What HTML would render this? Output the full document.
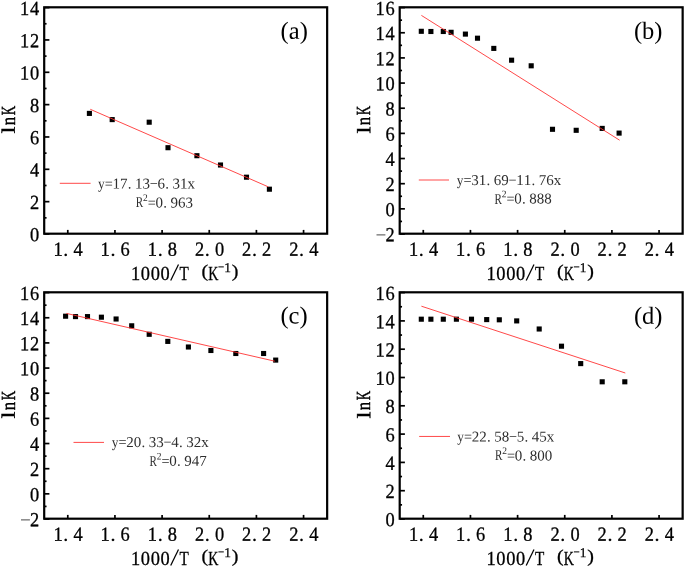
<!DOCTYPE html>
<html><head><meta charset="utf-8"><title>lnK vs 1000/T</title>
<style>html,body{margin:0;padding:0;background:#fff;}svg{display:block;will-change:transform;transform:translateZ(0);filter:blur(0.38px);}text{font-family:"Liberation Serif",serif;text-anchor:middle;}</style></head><body>
<svg width="685" height="568" viewBox="0 0 685 568">
<rect width="685" height="568" fill="#fff"/>
<rect x="44.20" y="7.30" width="282.95" height="226.40" fill="none" stroke="#000" stroke-width="2.2"/>
<line x1="67.78" y1="233.70" x2="67.78" y2="229.90" stroke="#000" stroke-width="1.7"/>
<text transform="translate(58.03 255.70) rotate(0.03) scale(0.920 1.000)" font-size="20.0" fill="#000" stroke="#000" stroke-width="0.3">1</text>
<text transform="translate(65.83 255.70) rotate(0.03) scale(1.000 1.000)" font-size="20.0" fill="#000" stroke="#000" stroke-width="0.3">.</text>
<text transform="translate(78.03 255.70) rotate(0.03) scale(0.920 1.000)" font-size="20.0" fill="#000" stroke="#000" stroke-width="0.3">4</text>
<line x1="114.94" y1="233.70" x2="114.94" y2="229.90" stroke="#000" stroke-width="1.7"/>
<text transform="translate(105.19 255.70) rotate(0.03) scale(0.920 1.000)" font-size="20.0" fill="#000" stroke="#000" stroke-width="0.3">1</text>
<text transform="translate(112.99 255.70) rotate(0.03) scale(1.000 1.000)" font-size="20.0" fill="#000" stroke="#000" stroke-width="0.3">.</text>
<text transform="translate(125.19 255.70) rotate(0.03) scale(0.920 1.000)" font-size="20.0" fill="#000" stroke="#000" stroke-width="0.3">6</text>
<line x1="162.10" y1="233.70" x2="162.10" y2="229.90" stroke="#000" stroke-width="1.7"/>
<text transform="translate(152.35 255.70) rotate(0.03) scale(0.920 1.000)" font-size="20.0" fill="#000" stroke="#000" stroke-width="0.3">1</text>
<text transform="translate(160.15 255.70) rotate(0.03) scale(1.000 1.000)" font-size="20.0" fill="#000" stroke="#000" stroke-width="0.3">.</text>
<text transform="translate(172.35 255.70) rotate(0.03) scale(0.920 1.000)" font-size="20.0" fill="#000" stroke="#000" stroke-width="0.3">8</text>
<line x1="209.25" y1="233.70" x2="209.25" y2="229.90" stroke="#000" stroke-width="1.7"/>
<text transform="translate(199.50 255.70) rotate(0.03) scale(0.920 1.000)" font-size="20.0" fill="#000" stroke="#000" stroke-width="0.3">2</text>
<text transform="translate(207.30 255.70) rotate(0.03) scale(1.000 1.000)" font-size="20.0" fill="#000" stroke="#000" stroke-width="0.3">.</text>
<text transform="translate(219.50 255.70) rotate(0.03) scale(0.920 1.000)" font-size="20.0" fill="#000" stroke="#000" stroke-width="0.3">0</text>
<line x1="256.41" y1="233.70" x2="256.41" y2="229.90" stroke="#000" stroke-width="1.7"/>
<text transform="translate(246.66 255.70) rotate(0.03) scale(0.920 1.000)" font-size="20.0" fill="#000" stroke="#000" stroke-width="0.3">2</text>
<text transform="translate(254.46 255.70) rotate(0.03) scale(1.000 1.000)" font-size="20.0" fill="#000" stroke="#000" stroke-width="0.3">.</text>
<text transform="translate(266.66 255.70) rotate(0.03) scale(0.920 1.000)" font-size="20.0" fill="#000" stroke="#000" stroke-width="0.3">2</text>
<line x1="303.57" y1="233.70" x2="303.57" y2="229.90" stroke="#000" stroke-width="1.7"/>
<text transform="translate(293.82 255.70) rotate(0.03) scale(0.920 1.000)" font-size="20.0" fill="#000" stroke="#000" stroke-width="0.3">2</text>
<text transform="translate(301.62 255.70) rotate(0.03) scale(1.000 1.000)" font-size="20.0" fill="#000" stroke="#000" stroke-width="0.3">.</text>
<text transform="translate(313.82 255.70) rotate(0.03) scale(0.920 1.000)" font-size="20.0" fill="#000" stroke="#000" stroke-width="0.3">4</text>
<line x1="44.20" y1="234.00" x2="49.40" y2="234.00" stroke="#000" stroke-width="1.7"/>
<text transform="translate(34.70 241.30) rotate(0.03) scale(0.920 1.000)" font-size="20.0" fill="#000" stroke="#000" stroke-width="0.3">0</text>
<line x1="44.20" y1="217.83" x2="46.55" y2="217.83" stroke="#000" stroke-width="1.7"/>
<line x1="44.20" y1="201.66" x2="49.40" y2="201.66" stroke="#000" stroke-width="1.7"/>
<text transform="translate(34.70 208.96) rotate(0.03) scale(0.920 1.000)" font-size="20.0" fill="#000" stroke="#000" stroke-width="0.3">2</text>
<line x1="44.20" y1="185.49" x2="46.55" y2="185.49" stroke="#000" stroke-width="1.7"/>
<line x1="44.20" y1="169.31" x2="49.40" y2="169.31" stroke="#000" stroke-width="1.7"/>
<text transform="translate(34.70 176.61) rotate(0.03) scale(0.920 1.000)" font-size="20.0" fill="#000" stroke="#000" stroke-width="0.3">4</text>
<line x1="44.20" y1="153.14" x2="46.55" y2="153.14" stroke="#000" stroke-width="1.7"/>
<line x1="44.20" y1="136.97" x2="49.40" y2="136.97" stroke="#000" stroke-width="1.7"/>
<text transform="translate(34.70 144.27) rotate(0.03) scale(0.920 1.000)" font-size="20.0" fill="#000" stroke="#000" stroke-width="0.3">6</text>
<line x1="44.20" y1="120.80" x2="46.55" y2="120.80" stroke="#000" stroke-width="1.7"/>
<line x1="44.20" y1="104.63" x2="49.40" y2="104.63" stroke="#000" stroke-width="1.7"/>
<text transform="translate(34.70 111.93) rotate(0.03) scale(0.920 1.000)" font-size="20.0" fill="#000" stroke="#000" stroke-width="0.3">8</text>
<line x1="44.20" y1="88.46" x2="46.55" y2="88.46" stroke="#000" stroke-width="1.7"/>
<line x1="44.20" y1="72.29" x2="49.40" y2="72.29" stroke="#000" stroke-width="1.7"/>
<text transform="translate(24.70 79.59) rotate(0.03) scale(0.920 1.000)" font-size="20.0" fill="#000" stroke="#000" stroke-width="0.3">1</text>
<text transform="translate(34.70 79.59) rotate(0.03) scale(0.920 1.000)" font-size="20.0" fill="#000" stroke="#000" stroke-width="0.3">0</text>
<line x1="44.20" y1="56.11" x2="46.55" y2="56.11" stroke="#000" stroke-width="1.7"/>
<line x1="44.20" y1="39.94" x2="49.40" y2="39.94" stroke="#000" stroke-width="1.7"/>
<text transform="translate(24.70 47.24) rotate(0.03) scale(0.920 1.000)" font-size="20.0" fill="#000" stroke="#000" stroke-width="0.3">1</text>
<text transform="translate(34.70 47.24) rotate(0.03) scale(0.920 1.000)" font-size="20.0" fill="#000" stroke="#000" stroke-width="0.3">2</text>
<line x1="44.20" y1="23.77" x2="46.55" y2="23.77" stroke="#000" stroke-width="1.7"/>
<line x1="44.20" y1="7.60" x2="49.40" y2="7.60" stroke="#000" stroke-width="1.7"/>
<text transform="translate(24.70 14.90) rotate(0.03) scale(0.920 1.000)" font-size="20.0" fill="#000" stroke="#000" stroke-width="0.3">1</text>
<text transform="translate(34.70 14.90) rotate(0.03) scale(0.920 1.000)" font-size="20.0" fill="#000" stroke="#000" stroke-width="0.3">4</text>
<text transform="translate(135.50 279.90) rotate(0.03) scale(0.920 1.000)" font-size="20.0" fill="#000" stroke="#000" stroke-width="0.3">1</text>
<text transform="translate(145.36 279.90) rotate(0.03) scale(0.920 1.000)" font-size="20.0" fill="#000" stroke="#000" stroke-width="0.3">0</text>
<text transform="translate(155.22 279.90) rotate(0.03) scale(0.920 1.000)" font-size="20.0" fill="#000" stroke="#000" stroke-width="0.3">0</text>
<text transform="translate(165.08 279.90) rotate(0.03) scale(0.920 1.000)" font-size="20.0" fill="#000" stroke="#000" stroke-width="0.3">0</text>
<line x1="170.70" y1="280.60" x2="178.50" y2="264.50" stroke="#000" stroke-width="1.25"/>
<text transform="translate(184.20 279.90) rotate(0.03) scale(0.760 1.000)" font-size="20.0" fill="#000" stroke="#000" stroke-width="0.3">T</text>
<text transform="translate(204.80 276.90) rotate(0.03) scale(1.000 0.900)" font-size="20.0" fill="#000" stroke="#000" stroke-width="0.3">(</text>
<text transform="translate(213.20 279.90) rotate(0.03) scale(0.700 1.000)" font-size="20.0" fill="#000" stroke="#000" stroke-width="0.3">K</text>
<line x1="218.40" y1="266.90" x2="223.80" y2="266.90" stroke="#000" stroke-width="1"/>
<text transform="translate(227.70 272.00) rotate(0.03) scale(1.000 1.000)" font-size="13.4" fill="#000" stroke="#000" stroke-width="0.25">1</text>
<text transform="translate(235.20 276.90) rotate(0.03) scale(1.000 0.900)" font-size="20.0" fill="#000" stroke="#000" stroke-width="0.3">)</text>
<g transform="translate(14.70 120.60) rotate(-90)">
<text transform="translate(-9.40 0.00) rotate(0.03) scale(1.250 0.950)" font-size="20.0" fill="#000" stroke="#000" stroke-width="0.45">l</text>
<text transform="translate(-0.50 0.00) rotate(0.03) scale(0.836 1.000)" font-size="20.0" fill="#000" stroke="#000" stroke-width="0.45">n</text>
<text transform="translate(10.00 0.00) rotate(0.03) scale(0.651 1.000)" font-size="20.0" fill="#000" stroke="#000" stroke-width="0.45">K</text>
</g>
<rect x="86.85" y="110.85" width="5.1" height="5.1" fill="#000"/>
<rect x="109.65" y="117.05" width="5.1" height="5.1" fill="#000"/>
<rect x="146.65" y="119.65" width="5.1" height="5.1" fill="#000"/>
<rect x="165.45" y="145.15" width="5.1" height="5.1" fill="#000"/>
<rect x="194.35" y="153.15" width="5.1" height="5.1" fill="#000"/>
<rect x="217.95" y="162.45" width="5.1" height="5.1" fill="#000"/>
<rect x="243.95" y="174.65" width="5.1" height="5.1" fill="#000"/>
<rect x="266.85" y="186.65" width="5.1" height="5.1" fill="#000"/>
<line x1="90.30" y1="109.30" x2="268.20" y2="186.80" stroke="#ff3030" stroke-width="0.88"/>
<line x1="59.80" y1="183.30" x2="90.60" y2="183.30" stroke="#ff3030" stroke-width="0.88"/>
<text transform="translate(101.30 188.60) rotate(0.03) scale(0.900 1.000)" font-size="15.0" fill="#2e2e2e">y</text>
<text transform="translate(108.80 188.60) rotate(0.03) scale(0.950 1.000)" font-size="15.0" fill="#2e2e2e">=</text>
<text transform="translate(116.30 188.60) rotate(0.03) scale(1.000 1.000)" font-size="15.0" fill="#2e2e2e">1</text>
<text transform="translate(123.80 188.60) rotate(0.03) scale(1.000 1.000)" font-size="15.0" fill="#2e2e2e">7</text>
<text transform="translate(129.65 188.60) rotate(0.03) scale(1.000 1.000)" font-size="15.0" fill="#2e2e2e">.</text>
<text transform="translate(138.80 188.60) rotate(0.03) scale(1.000 1.000)" font-size="15.0" fill="#2e2e2e">1</text>
<text transform="translate(146.30 188.60) rotate(0.03) scale(1.000 1.000)" font-size="15.0" fill="#2e2e2e">3</text>
<text transform="translate(153.80 188.60) rotate(0.03) scale(0.950 1.000)" font-size="15.0" fill="#2e2e2e">−</text>
<text transform="translate(161.30 188.60) rotate(0.03) scale(1.000 1.000)" font-size="15.0" fill="#2e2e2e">6</text>
<text transform="translate(167.15 188.60) rotate(0.03) scale(1.000 1.000)" font-size="15.0" fill="#2e2e2e">.</text>
<text transform="translate(176.30 188.60) rotate(0.03) scale(1.000 1.000)" font-size="15.0" fill="#2e2e2e">3</text>
<text transform="translate(183.80 188.60) rotate(0.03) scale(1.000 1.000)" font-size="15.0" fill="#2e2e2e">1</text>
<text transform="translate(191.30 188.60) rotate(0.03) scale(1.000 1.000)" font-size="15.0" fill="#2e2e2e">x</text>
<text transform="translate(139.35 207.40) rotate(0.03) scale(0.740 1.000)" font-size="15.0" fill="#2e2e2e">R</text>
<text transform="translate(145.35 201.10) rotate(0.03) scale(0.950 1.000)" font-size="10" fill="#2e2e2e">2</text>
<text transform="translate(151.70 207.40) rotate(0.03) scale(0.950 1.000)" font-size="15.0" fill="#2e2e2e">=</text>
<text transform="translate(159.20 207.40) rotate(0.03) scale(1.000 1.000)" font-size="15.0" fill="#2e2e2e">0</text>
<text transform="translate(165.05 207.40) rotate(0.03) scale(1.000 1.000)" font-size="15.0" fill="#2e2e2e">.</text>
<text transform="translate(174.20 207.40) rotate(0.03) scale(1.000 1.000)" font-size="15.0" fill="#2e2e2e">9</text>
<text transform="translate(181.70 207.40) rotate(0.03) scale(1.000 1.000)" font-size="15.0" fill="#2e2e2e">6</text>
<text transform="translate(189.20 207.40) rotate(0.03) scale(1.000 1.000)" font-size="15.0" fill="#2e2e2e">3</text>
<text transform="translate(294.20 38.70) rotate(0.03)" font-size="24.5" fill="#000">(a)</text>
<rect x="399.70" y="7.30" width="282.95" height="226.40" fill="none" stroke="#000" stroke-width="2.2"/>
<line x1="423.28" y1="233.70" x2="423.28" y2="229.90" stroke="#000" stroke-width="1.7"/>
<text transform="translate(413.53 255.70) rotate(0.03) scale(0.920 1.000)" font-size="20.0" fill="#000" stroke="#000" stroke-width="0.3">1</text>
<text transform="translate(421.33 255.70) rotate(0.03) scale(1.000 1.000)" font-size="20.0" fill="#000" stroke="#000" stroke-width="0.3">.</text>
<text transform="translate(433.53 255.70) rotate(0.03) scale(0.920 1.000)" font-size="20.0" fill="#000" stroke="#000" stroke-width="0.3">4</text>
<line x1="470.44" y1="233.70" x2="470.44" y2="229.90" stroke="#000" stroke-width="1.7"/>
<text transform="translate(460.69 255.70) rotate(0.03) scale(0.920 1.000)" font-size="20.0" fill="#000" stroke="#000" stroke-width="0.3">1</text>
<text transform="translate(468.49 255.70) rotate(0.03) scale(1.000 1.000)" font-size="20.0" fill="#000" stroke="#000" stroke-width="0.3">.</text>
<text transform="translate(480.69 255.70) rotate(0.03) scale(0.920 1.000)" font-size="20.0" fill="#000" stroke="#000" stroke-width="0.3">6</text>
<line x1="517.60" y1="233.70" x2="517.60" y2="229.90" stroke="#000" stroke-width="1.7"/>
<text transform="translate(507.85 255.70) rotate(0.03) scale(0.920 1.000)" font-size="20.0" fill="#000" stroke="#000" stroke-width="0.3">1</text>
<text transform="translate(515.65 255.70) rotate(0.03) scale(1.000 1.000)" font-size="20.0" fill="#000" stroke="#000" stroke-width="0.3">.</text>
<text transform="translate(527.85 255.70) rotate(0.03) scale(0.920 1.000)" font-size="20.0" fill="#000" stroke="#000" stroke-width="0.3">8</text>
<line x1="564.75" y1="233.70" x2="564.75" y2="229.90" stroke="#000" stroke-width="1.7"/>
<text transform="translate(555.00 255.70) rotate(0.03) scale(0.920 1.000)" font-size="20.0" fill="#000" stroke="#000" stroke-width="0.3">2</text>
<text transform="translate(562.80 255.70) rotate(0.03) scale(1.000 1.000)" font-size="20.0" fill="#000" stroke="#000" stroke-width="0.3">.</text>
<text transform="translate(575.00 255.70) rotate(0.03) scale(0.920 1.000)" font-size="20.0" fill="#000" stroke="#000" stroke-width="0.3">0</text>
<line x1="611.91" y1="233.70" x2="611.91" y2="229.90" stroke="#000" stroke-width="1.7"/>
<text transform="translate(602.16 255.70) rotate(0.03) scale(0.920 1.000)" font-size="20.0" fill="#000" stroke="#000" stroke-width="0.3">2</text>
<text transform="translate(609.96 255.70) rotate(0.03) scale(1.000 1.000)" font-size="20.0" fill="#000" stroke="#000" stroke-width="0.3">.</text>
<text transform="translate(622.16 255.70) rotate(0.03) scale(0.920 1.000)" font-size="20.0" fill="#000" stroke="#000" stroke-width="0.3">2</text>
<line x1="659.07" y1="233.70" x2="659.07" y2="229.90" stroke="#000" stroke-width="1.7"/>
<text transform="translate(649.32 255.70) rotate(0.03) scale(0.920 1.000)" font-size="20.0" fill="#000" stroke="#000" stroke-width="0.3">2</text>
<text transform="translate(657.12 255.70) rotate(0.03) scale(1.000 1.000)" font-size="20.0" fill="#000" stroke="#000" stroke-width="0.3">.</text>
<text transform="translate(669.32 255.70) rotate(0.03) scale(0.920 1.000)" font-size="20.0" fill="#000" stroke="#000" stroke-width="0.3">4</text>
<line x1="399.70" y1="234.00" x2="404.90" y2="234.00" stroke="#000" stroke-width="1.7"/>
<line x1="376.50" y1="234.90" x2="385.40" y2="234.90" stroke="#333" stroke-width="0.9"/>
<text transform="translate(390.20 241.30) rotate(0.03) scale(0.920 1.000)" font-size="20.0" fill="#000" stroke="#000" stroke-width="0.3">2</text>
<line x1="399.70" y1="221.42" x2="402.05" y2="221.42" stroke="#000" stroke-width="1.7"/>
<line x1="399.70" y1="208.84" x2="404.90" y2="208.84" stroke="#000" stroke-width="1.7"/>
<text transform="translate(390.20 216.14) rotate(0.03) scale(0.920 1.000)" font-size="20.0" fill="#000" stroke="#000" stroke-width="0.3">0</text>
<line x1="399.70" y1="196.27" x2="402.05" y2="196.27" stroke="#000" stroke-width="1.7"/>
<line x1="399.70" y1="183.69" x2="404.90" y2="183.69" stroke="#000" stroke-width="1.7"/>
<text transform="translate(390.20 190.99) rotate(0.03) scale(0.920 1.000)" font-size="20.0" fill="#000" stroke="#000" stroke-width="0.3">2</text>
<line x1="399.70" y1="171.11" x2="402.05" y2="171.11" stroke="#000" stroke-width="1.7"/>
<line x1="399.70" y1="158.53" x2="404.90" y2="158.53" stroke="#000" stroke-width="1.7"/>
<text transform="translate(390.20 165.83) rotate(0.03) scale(0.920 1.000)" font-size="20.0" fill="#000" stroke="#000" stroke-width="0.3">4</text>
<line x1="399.70" y1="145.96" x2="402.05" y2="145.96" stroke="#000" stroke-width="1.7"/>
<line x1="399.70" y1="133.38" x2="404.90" y2="133.38" stroke="#000" stroke-width="1.7"/>
<text transform="translate(390.20 140.68) rotate(0.03) scale(0.920 1.000)" font-size="20.0" fill="#000" stroke="#000" stroke-width="0.3">6</text>
<line x1="399.70" y1="120.80" x2="402.05" y2="120.80" stroke="#000" stroke-width="1.7"/>
<line x1="399.70" y1="108.22" x2="404.90" y2="108.22" stroke="#000" stroke-width="1.7"/>
<text transform="translate(390.20 115.52) rotate(0.03) scale(0.920 1.000)" font-size="20.0" fill="#000" stroke="#000" stroke-width="0.3">8</text>
<line x1="399.70" y1="95.64" x2="402.05" y2="95.64" stroke="#000" stroke-width="1.7"/>
<line x1="399.70" y1="83.07" x2="404.90" y2="83.07" stroke="#000" stroke-width="1.7"/>
<text transform="translate(380.20 90.37) rotate(0.03) scale(0.920 1.000)" font-size="20.0" fill="#000" stroke="#000" stroke-width="0.3">1</text>
<text transform="translate(390.20 90.37) rotate(0.03) scale(0.920 1.000)" font-size="20.0" fill="#000" stroke="#000" stroke-width="0.3">0</text>
<line x1="399.70" y1="70.49" x2="402.05" y2="70.49" stroke="#000" stroke-width="1.7"/>
<line x1="399.70" y1="57.91" x2="404.90" y2="57.91" stroke="#000" stroke-width="1.7"/>
<text transform="translate(380.20 65.21) rotate(0.03) scale(0.920 1.000)" font-size="20.0" fill="#000" stroke="#000" stroke-width="0.3">1</text>
<text transform="translate(390.20 65.21) rotate(0.03) scale(0.920 1.000)" font-size="20.0" fill="#000" stroke="#000" stroke-width="0.3">2</text>
<line x1="399.70" y1="45.33" x2="402.05" y2="45.33" stroke="#000" stroke-width="1.7"/>
<line x1="399.70" y1="32.76" x2="404.90" y2="32.76" stroke="#000" stroke-width="1.7"/>
<text transform="translate(380.20 40.06) rotate(0.03) scale(0.920 1.000)" font-size="20.0" fill="#000" stroke="#000" stroke-width="0.3">1</text>
<text transform="translate(390.20 40.06) rotate(0.03) scale(0.920 1.000)" font-size="20.0" fill="#000" stroke="#000" stroke-width="0.3">4</text>
<line x1="399.70" y1="20.18" x2="402.05" y2="20.18" stroke="#000" stroke-width="1.7"/>
<line x1="399.70" y1="7.60" x2="404.90" y2="7.60" stroke="#000" stroke-width="1.7"/>
<text transform="translate(380.20 14.90) rotate(0.03) scale(0.920 1.000)" font-size="20.0" fill="#000" stroke="#000" stroke-width="0.3">1</text>
<text transform="translate(390.20 14.90) rotate(0.03) scale(0.920 1.000)" font-size="20.0" fill="#000" stroke="#000" stroke-width="0.3">6</text>
<text transform="translate(491.00 279.90) rotate(0.03) scale(0.920 1.000)" font-size="20.0" fill="#000" stroke="#000" stroke-width="0.3">1</text>
<text transform="translate(500.86 279.90) rotate(0.03) scale(0.920 1.000)" font-size="20.0" fill="#000" stroke="#000" stroke-width="0.3">0</text>
<text transform="translate(510.72 279.90) rotate(0.03) scale(0.920 1.000)" font-size="20.0" fill="#000" stroke="#000" stroke-width="0.3">0</text>
<text transform="translate(520.58 279.90) rotate(0.03) scale(0.920 1.000)" font-size="20.0" fill="#000" stroke="#000" stroke-width="0.3">0</text>
<line x1="526.20" y1="280.60" x2="534.00" y2="264.50" stroke="#000" stroke-width="1.25"/>
<text transform="translate(539.70 279.90) rotate(0.03) scale(0.760 1.000)" font-size="20.0" fill="#000" stroke="#000" stroke-width="0.3">T</text>
<text transform="translate(560.30 276.90) rotate(0.03) scale(1.000 0.900)" font-size="20.0" fill="#000" stroke="#000" stroke-width="0.3">(</text>
<text transform="translate(568.70 279.90) rotate(0.03) scale(0.700 1.000)" font-size="20.0" fill="#000" stroke="#000" stroke-width="0.3">K</text>
<line x1="573.90" y1="266.90" x2="579.30" y2="266.90" stroke="#000" stroke-width="1"/>
<text transform="translate(583.20 272.00) rotate(0.03) scale(1.000 1.000)" font-size="13.4" fill="#000" stroke="#000" stroke-width="0.25">1</text>
<text transform="translate(590.70 276.90) rotate(0.03) scale(1.000 0.900)" font-size="20.0" fill="#000" stroke="#000" stroke-width="0.3">)</text>
<g transform="translate(370.20 120.60) rotate(-90)">
<text transform="translate(-9.40 0.00) rotate(0.03) scale(1.250 0.950)" font-size="20.0" fill="#000" stroke="#000" stroke-width="0.45">l</text>
<text transform="translate(-0.50 0.00) rotate(0.03) scale(0.836 1.000)" font-size="20.0" fill="#000" stroke="#000" stroke-width="0.45">n</text>
<text transform="translate(10.00 0.00) rotate(0.03) scale(0.651 1.000)" font-size="20.0" fill="#000" stroke="#000" stroke-width="0.45">K</text>
</g>
<rect x="418.75" y="28.75" width="5.1" height="5.1" fill="#000"/>
<rect x="428.35" y="28.95" width="5.1" height="5.1" fill="#000"/>
<rect x="440.75" y="28.95" width="5.1" height="5.1" fill="#000"/>
<rect x="448.55" y="29.75" width="5.1" height="5.1" fill="#000"/>
<rect x="462.85" y="31.55" width="5.1" height="5.1" fill="#000"/>
<rect x="474.95" y="35.65" width="5.1" height="5.1" fill="#000"/>
<rect x="491.25" y="45.85" width="5.1" height="5.1" fill="#000"/>
<rect x="509.05" y="57.65" width="5.1" height="5.1" fill="#000"/>
<rect x="528.65" y="63.25" width="5.1" height="5.1" fill="#000"/>
<rect x="549.95" y="126.75" width="5.1" height="5.1" fill="#000"/>
<rect x="573.65" y="127.75" width="5.1" height="5.1" fill="#000"/>
<rect x="599.65" y="125.85" width="5.1" height="5.1" fill="#000"/>
<rect x="616.55" y="130.55" width="5.1" height="5.1" fill="#000"/>
<line x1="421.40" y1="15.40" x2="619.60" y2="140.20" stroke="#ff3030" stroke-width="0.88"/>
<line x1="418.80" y1="180.00" x2="449.00" y2="180.00" stroke="#ff3030" stroke-width="0.88"/>
<text transform="translate(460.05 184.90) rotate(0.03) scale(0.900 1.000)" font-size="15.0" fill="#2e2e2e">y</text>
<text transform="translate(467.55 184.90) rotate(0.03) scale(0.950 1.000)" font-size="15.0" fill="#2e2e2e">=</text>
<text transform="translate(475.05 184.90) rotate(0.03) scale(1.000 1.000)" font-size="15.0" fill="#2e2e2e">3</text>
<text transform="translate(482.55 184.90) rotate(0.03) scale(1.000 1.000)" font-size="15.0" fill="#2e2e2e">1</text>
<text transform="translate(488.40 184.90) rotate(0.03) scale(1.000 1.000)" font-size="15.0" fill="#2e2e2e">.</text>
<text transform="translate(497.55 184.90) rotate(0.03) scale(1.000 1.000)" font-size="15.0" fill="#2e2e2e">6</text>
<text transform="translate(505.05 184.90) rotate(0.03) scale(1.000 1.000)" font-size="15.0" fill="#2e2e2e">9</text>
<text transform="translate(512.55 184.90) rotate(0.03) scale(0.950 1.000)" font-size="15.0" fill="#2e2e2e">−</text>
<text transform="translate(520.05 184.90) rotate(0.03) scale(1.000 1.000)" font-size="15.0" fill="#2e2e2e">1</text>
<text transform="translate(527.55 184.90) rotate(0.03) scale(1.000 1.000)" font-size="15.0" fill="#2e2e2e">1</text>
<text transform="translate(533.40 184.90) rotate(0.03) scale(1.000 1.000)" font-size="15.0" fill="#2e2e2e">.</text>
<text transform="translate(542.55 184.90) rotate(0.03) scale(1.000 1.000)" font-size="15.0" fill="#2e2e2e">7</text>
<text transform="translate(550.05 184.90) rotate(0.03) scale(1.000 1.000)" font-size="15.0" fill="#2e2e2e">6</text>
<text transform="translate(557.55 184.90) rotate(0.03) scale(1.000 1.000)" font-size="15.0" fill="#2e2e2e">x</text>
<text transform="translate(498.10 203.60) rotate(0.03) scale(0.740 1.000)" font-size="15.0" fill="#2e2e2e">R</text>
<text transform="translate(504.10 197.30) rotate(0.03) scale(0.950 1.000)" font-size="10" fill="#2e2e2e">2</text>
<text transform="translate(510.45 203.60) rotate(0.03) scale(0.950 1.000)" font-size="15.0" fill="#2e2e2e">=</text>
<text transform="translate(517.95 203.60) rotate(0.03) scale(1.000 1.000)" font-size="15.0" fill="#2e2e2e">0</text>
<text transform="translate(523.80 203.60) rotate(0.03) scale(1.000 1.000)" font-size="15.0" fill="#2e2e2e">.</text>
<text transform="translate(532.95 203.60) rotate(0.03) scale(1.000 1.000)" font-size="15.0" fill="#2e2e2e">8</text>
<text transform="translate(540.45 203.60) rotate(0.03) scale(1.000 1.000)" font-size="15.0" fill="#2e2e2e">8</text>
<text transform="translate(547.95 203.60) rotate(0.03) scale(1.000 1.000)" font-size="15.0" fill="#2e2e2e">8</text>
<text transform="translate(648.20 38.70) rotate(0.03)" font-size="24.5" fill="#000">(b)</text>
<rect x="44.20" y="292.30" width="282.95" height="226.40" fill="none" stroke="#000" stroke-width="2.2"/>
<line x1="67.78" y1="518.70" x2="67.78" y2="514.90" stroke="#000" stroke-width="1.7"/>
<text transform="translate(58.03 540.70) rotate(0.03) scale(0.920 1.000)" font-size="20.0" fill="#000" stroke="#000" stroke-width="0.3">1</text>
<text transform="translate(65.83 540.70) rotate(0.03) scale(1.000 1.000)" font-size="20.0" fill="#000" stroke="#000" stroke-width="0.3">.</text>
<text transform="translate(78.03 540.70) rotate(0.03) scale(0.920 1.000)" font-size="20.0" fill="#000" stroke="#000" stroke-width="0.3">4</text>
<line x1="114.94" y1="518.70" x2="114.94" y2="514.90" stroke="#000" stroke-width="1.7"/>
<text transform="translate(105.19 540.70) rotate(0.03) scale(0.920 1.000)" font-size="20.0" fill="#000" stroke="#000" stroke-width="0.3">1</text>
<text transform="translate(112.99 540.70) rotate(0.03) scale(1.000 1.000)" font-size="20.0" fill="#000" stroke="#000" stroke-width="0.3">.</text>
<text transform="translate(125.19 540.70) rotate(0.03) scale(0.920 1.000)" font-size="20.0" fill="#000" stroke="#000" stroke-width="0.3">6</text>
<line x1="162.10" y1="518.70" x2="162.10" y2="514.90" stroke="#000" stroke-width="1.7"/>
<text transform="translate(152.35 540.70) rotate(0.03) scale(0.920 1.000)" font-size="20.0" fill="#000" stroke="#000" stroke-width="0.3">1</text>
<text transform="translate(160.15 540.70) rotate(0.03) scale(1.000 1.000)" font-size="20.0" fill="#000" stroke="#000" stroke-width="0.3">.</text>
<text transform="translate(172.35 540.70) rotate(0.03) scale(0.920 1.000)" font-size="20.0" fill="#000" stroke="#000" stroke-width="0.3">8</text>
<line x1="209.25" y1="518.70" x2="209.25" y2="514.90" stroke="#000" stroke-width="1.7"/>
<text transform="translate(199.50 540.70) rotate(0.03) scale(0.920 1.000)" font-size="20.0" fill="#000" stroke="#000" stroke-width="0.3">2</text>
<text transform="translate(207.30 540.70) rotate(0.03) scale(1.000 1.000)" font-size="20.0" fill="#000" stroke="#000" stroke-width="0.3">.</text>
<text transform="translate(219.50 540.70) rotate(0.03) scale(0.920 1.000)" font-size="20.0" fill="#000" stroke="#000" stroke-width="0.3">0</text>
<line x1="256.41" y1="518.70" x2="256.41" y2="514.90" stroke="#000" stroke-width="1.7"/>
<text transform="translate(246.66 540.70) rotate(0.03) scale(0.920 1.000)" font-size="20.0" fill="#000" stroke="#000" stroke-width="0.3">2</text>
<text transform="translate(254.46 540.70) rotate(0.03) scale(1.000 1.000)" font-size="20.0" fill="#000" stroke="#000" stroke-width="0.3">.</text>
<text transform="translate(266.66 540.70) rotate(0.03) scale(0.920 1.000)" font-size="20.0" fill="#000" stroke="#000" stroke-width="0.3">2</text>
<line x1="303.57" y1="518.70" x2="303.57" y2="514.90" stroke="#000" stroke-width="1.7"/>
<text transform="translate(293.82 540.70) rotate(0.03) scale(0.920 1.000)" font-size="20.0" fill="#000" stroke="#000" stroke-width="0.3">2</text>
<text transform="translate(301.62 540.70) rotate(0.03) scale(1.000 1.000)" font-size="20.0" fill="#000" stroke="#000" stroke-width="0.3">.</text>
<text transform="translate(313.82 540.70) rotate(0.03) scale(0.920 1.000)" font-size="20.0" fill="#000" stroke="#000" stroke-width="0.3">4</text>
<line x1="44.20" y1="519.00" x2="49.40" y2="519.00" stroke="#000" stroke-width="1.7"/>
<line x1="21.00" y1="519.90" x2="29.90" y2="519.90" stroke="#333" stroke-width="0.9"/>
<text transform="translate(34.70 526.30) rotate(0.03) scale(0.920 1.000)" font-size="20.0" fill="#000" stroke="#000" stroke-width="0.3">2</text>
<line x1="44.20" y1="506.42" x2="46.55" y2="506.42" stroke="#000" stroke-width="1.7"/>
<line x1="44.20" y1="493.84" x2="49.40" y2="493.84" stroke="#000" stroke-width="1.7"/>
<text transform="translate(34.70 501.14) rotate(0.03) scale(0.920 1.000)" font-size="20.0" fill="#000" stroke="#000" stroke-width="0.3">0</text>
<line x1="44.20" y1="481.27" x2="46.55" y2="481.27" stroke="#000" stroke-width="1.7"/>
<line x1="44.20" y1="468.69" x2="49.40" y2="468.69" stroke="#000" stroke-width="1.7"/>
<text transform="translate(34.70 475.99) rotate(0.03) scale(0.920 1.000)" font-size="20.0" fill="#000" stroke="#000" stroke-width="0.3">2</text>
<line x1="44.20" y1="456.11" x2="46.55" y2="456.11" stroke="#000" stroke-width="1.7"/>
<line x1="44.20" y1="443.53" x2="49.40" y2="443.53" stroke="#000" stroke-width="1.7"/>
<text transform="translate(34.70 450.83) rotate(0.03) scale(0.920 1.000)" font-size="20.0" fill="#000" stroke="#000" stroke-width="0.3">4</text>
<line x1="44.20" y1="430.96" x2="46.55" y2="430.96" stroke="#000" stroke-width="1.7"/>
<line x1="44.20" y1="418.38" x2="49.40" y2="418.38" stroke="#000" stroke-width="1.7"/>
<text transform="translate(34.70 425.68) rotate(0.03) scale(0.920 1.000)" font-size="20.0" fill="#000" stroke="#000" stroke-width="0.3">6</text>
<line x1="44.20" y1="405.80" x2="46.55" y2="405.80" stroke="#000" stroke-width="1.7"/>
<line x1="44.20" y1="393.22" x2="49.40" y2="393.22" stroke="#000" stroke-width="1.7"/>
<text transform="translate(34.70 400.52) rotate(0.03) scale(0.920 1.000)" font-size="20.0" fill="#000" stroke="#000" stroke-width="0.3">8</text>
<line x1="44.20" y1="380.64" x2="46.55" y2="380.64" stroke="#000" stroke-width="1.7"/>
<line x1="44.20" y1="368.07" x2="49.40" y2="368.07" stroke="#000" stroke-width="1.7"/>
<text transform="translate(24.70 375.37) rotate(0.03) scale(0.920 1.000)" font-size="20.0" fill="#000" stroke="#000" stroke-width="0.3">1</text>
<text transform="translate(34.70 375.37) rotate(0.03) scale(0.920 1.000)" font-size="20.0" fill="#000" stroke="#000" stroke-width="0.3">0</text>
<line x1="44.20" y1="355.49" x2="46.55" y2="355.49" stroke="#000" stroke-width="1.7"/>
<line x1="44.20" y1="342.91" x2="49.40" y2="342.91" stroke="#000" stroke-width="1.7"/>
<text transform="translate(24.70 350.21) rotate(0.03) scale(0.920 1.000)" font-size="20.0" fill="#000" stroke="#000" stroke-width="0.3">1</text>
<text transform="translate(34.70 350.21) rotate(0.03) scale(0.920 1.000)" font-size="20.0" fill="#000" stroke="#000" stroke-width="0.3">2</text>
<line x1="44.20" y1="330.33" x2="46.55" y2="330.33" stroke="#000" stroke-width="1.7"/>
<line x1="44.20" y1="317.76" x2="49.40" y2="317.76" stroke="#000" stroke-width="1.7"/>
<text transform="translate(24.70 325.06) rotate(0.03) scale(0.920 1.000)" font-size="20.0" fill="#000" stroke="#000" stroke-width="0.3">1</text>
<text transform="translate(34.70 325.06) rotate(0.03) scale(0.920 1.000)" font-size="20.0" fill="#000" stroke="#000" stroke-width="0.3">4</text>
<line x1="44.20" y1="305.18" x2="46.55" y2="305.18" stroke="#000" stroke-width="1.7"/>
<line x1="44.20" y1="292.60" x2="49.40" y2="292.60" stroke="#000" stroke-width="1.7"/>
<text transform="translate(24.70 299.90) rotate(0.03) scale(0.920 1.000)" font-size="20.0" fill="#000" stroke="#000" stroke-width="0.3">1</text>
<text transform="translate(34.70 299.90) rotate(0.03) scale(0.920 1.000)" font-size="20.0" fill="#000" stroke="#000" stroke-width="0.3">6</text>
<text transform="translate(135.50 564.90) rotate(0.03) scale(0.920 1.000)" font-size="20.0" fill="#000" stroke="#000" stroke-width="0.3">1</text>
<text transform="translate(145.36 564.90) rotate(0.03) scale(0.920 1.000)" font-size="20.0" fill="#000" stroke="#000" stroke-width="0.3">0</text>
<text transform="translate(155.22 564.90) rotate(0.03) scale(0.920 1.000)" font-size="20.0" fill="#000" stroke="#000" stroke-width="0.3">0</text>
<text transform="translate(165.08 564.90) rotate(0.03) scale(0.920 1.000)" font-size="20.0" fill="#000" stroke="#000" stroke-width="0.3">0</text>
<line x1="170.70" y1="565.60" x2="178.50" y2="549.50" stroke="#000" stroke-width="1.25"/>
<text transform="translate(184.20 564.90) rotate(0.03) scale(0.760 1.000)" font-size="20.0" fill="#000" stroke="#000" stroke-width="0.3">T</text>
<text transform="translate(204.80 561.90) rotate(0.03) scale(1.000 0.900)" font-size="20.0" fill="#000" stroke="#000" stroke-width="0.3">(</text>
<text transform="translate(213.20 564.90) rotate(0.03) scale(0.700 1.000)" font-size="20.0" fill="#000" stroke="#000" stroke-width="0.3">K</text>
<line x1="218.40" y1="551.90" x2="223.80" y2="551.90" stroke="#000" stroke-width="1"/>
<text transform="translate(227.70 557.00) rotate(0.03) scale(1.000 1.000)" font-size="13.4" fill="#000" stroke="#000" stroke-width="0.25">1</text>
<text transform="translate(235.20 561.90) rotate(0.03) scale(1.000 0.900)" font-size="20.0" fill="#000" stroke="#000" stroke-width="0.3">)</text>
<g transform="translate(14.70 405.60) rotate(-90)">
<text transform="translate(-9.40 0.00) rotate(0.03) scale(1.250 0.950)" font-size="20.0" fill="#000" stroke="#000" stroke-width="0.45">l</text>
<text transform="translate(-0.50 0.00) rotate(0.03) scale(0.836 1.000)" font-size="20.0" fill="#000" stroke="#000" stroke-width="0.45">n</text>
<text transform="translate(10.00 0.00) rotate(0.03) scale(0.651 1.000)" font-size="20.0" fill="#000" stroke="#000" stroke-width="0.45">K</text>
</g>
<rect x="63.05" y="313.65" width="5.1" height="5.1" fill="#000"/>
<rect x="72.95" y="314.05" width="5.1" height="5.1" fill="#000"/>
<rect x="84.95" y="314.05" width="5.1" height="5.1" fill="#000"/>
<rect x="98.85" y="314.65" width="5.1" height="5.1" fill="#000"/>
<rect x="113.55" y="316.45" width="5.1" height="5.1" fill="#000"/>
<rect x="129.15" y="323.25" width="5.1" height="5.1" fill="#000"/>
<rect x="146.65" y="331.75" width="5.1" height="5.1" fill="#000"/>
<rect x="165.25" y="338.85" width="5.1" height="5.1" fill="#000"/>
<rect x="185.85" y="344.45" width="5.1" height="5.1" fill="#000"/>
<rect x="208.35" y="347.95" width="5.1" height="5.1" fill="#000"/>
<rect x="233.25" y="350.95" width="5.1" height="5.1" fill="#000"/>
<rect x="261.05" y="350.95" width="5.1" height="5.1" fill="#000"/>
<rect x="273.15" y="357.55" width="5.1" height="5.1" fill="#000"/>
<line x1="66.40" y1="313.40" x2="274.80" y2="361.20" stroke="#ff3030" stroke-width="0.88"/>
<line x1="73.50" y1="442.40" x2="104.00" y2="442.40" stroke="#ff3030" stroke-width="0.88"/>
<text transform="translate(115.05 446.90) rotate(0.03) scale(0.900 1.000)" font-size="15.0" fill="#2e2e2e">y</text>
<text transform="translate(122.55 446.90) rotate(0.03) scale(0.950 1.000)" font-size="15.0" fill="#2e2e2e">=</text>
<text transform="translate(130.05 446.90) rotate(0.03) scale(1.000 1.000)" font-size="15.0" fill="#2e2e2e">2</text>
<text transform="translate(137.55 446.90) rotate(0.03) scale(1.000 1.000)" font-size="15.0" fill="#2e2e2e">0</text>
<text transform="translate(143.40 446.90) rotate(0.03) scale(1.000 1.000)" font-size="15.0" fill="#2e2e2e">.</text>
<text transform="translate(152.55 446.90) rotate(0.03) scale(1.000 1.000)" font-size="15.0" fill="#2e2e2e">3</text>
<text transform="translate(160.05 446.90) rotate(0.03) scale(1.000 1.000)" font-size="15.0" fill="#2e2e2e">3</text>
<text transform="translate(167.55 446.90) rotate(0.03) scale(0.950 1.000)" font-size="15.0" fill="#2e2e2e">−</text>
<text transform="translate(175.05 446.90) rotate(0.03) scale(1.000 1.000)" font-size="15.0" fill="#2e2e2e">4</text>
<text transform="translate(180.90 446.90) rotate(0.03) scale(1.000 1.000)" font-size="15.0" fill="#2e2e2e">.</text>
<text transform="translate(190.05 446.90) rotate(0.03) scale(1.000 1.000)" font-size="15.0" fill="#2e2e2e">3</text>
<text transform="translate(197.55 446.90) rotate(0.03) scale(1.000 1.000)" font-size="15.0" fill="#2e2e2e">2</text>
<text transform="translate(205.05 446.90) rotate(0.03) scale(1.000 1.000)" font-size="15.0" fill="#2e2e2e">x</text>
<text transform="translate(153.10 465.70) rotate(0.03) scale(0.740 1.000)" font-size="15.0" fill="#2e2e2e">R</text>
<text transform="translate(159.10 459.40) rotate(0.03) scale(0.950 1.000)" font-size="10" fill="#2e2e2e">2</text>
<text transform="translate(165.45 465.70) rotate(0.03) scale(0.950 1.000)" font-size="15.0" fill="#2e2e2e">=</text>
<text transform="translate(172.95 465.70) rotate(0.03) scale(1.000 1.000)" font-size="15.0" fill="#2e2e2e">0</text>
<text transform="translate(178.80 465.70) rotate(0.03) scale(1.000 1.000)" font-size="15.0" fill="#2e2e2e">.</text>
<text transform="translate(187.95 465.70) rotate(0.03) scale(1.000 1.000)" font-size="15.0" fill="#2e2e2e">9</text>
<text transform="translate(195.45 465.70) rotate(0.03) scale(1.000 1.000)" font-size="15.0" fill="#2e2e2e">4</text>
<text transform="translate(202.95 465.70) rotate(0.03) scale(1.000 1.000)" font-size="15.0" fill="#2e2e2e">7</text>
<text transform="translate(294.00 323.60) rotate(0.03)" font-size="24.5" fill="#000">(c)</text>
<rect x="399.70" y="292.30" width="282.95" height="226.40" fill="none" stroke="#000" stroke-width="2.2"/>
<line x1="423.28" y1="518.70" x2="423.28" y2="514.90" stroke="#000" stroke-width="1.7"/>
<text transform="translate(413.53 540.70) rotate(0.03) scale(0.920 1.000)" font-size="20.0" fill="#000" stroke="#000" stroke-width="0.3">1</text>
<text transform="translate(421.33 540.70) rotate(0.03) scale(1.000 1.000)" font-size="20.0" fill="#000" stroke="#000" stroke-width="0.3">.</text>
<text transform="translate(433.53 540.70) rotate(0.03) scale(0.920 1.000)" font-size="20.0" fill="#000" stroke="#000" stroke-width="0.3">4</text>
<line x1="470.44" y1="518.70" x2="470.44" y2="514.90" stroke="#000" stroke-width="1.7"/>
<text transform="translate(460.69 540.70) rotate(0.03) scale(0.920 1.000)" font-size="20.0" fill="#000" stroke="#000" stroke-width="0.3">1</text>
<text transform="translate(468.49 540.70) rotate(0.03) scale(1.000 1.000)" font-size="20.0" fill="#000" stroke="#000" stroke-width="0.3">.</text>
<text transform="translate(480.69 540.70) rotate(0.03) scale(0.920 1.000)" font-size="20.0" fill="#000" stroke="#000" stroke-width="0.3">6</text>
<line x1="517.60" y1="518.70" x2="517.60" y2="514.90" stroke="#000" stroke-width="1.7"/>
<text transform="translate(507.85 540.70) rotate(0.03) scale(0.920 1.000)" font-size="20.0" fill="#000" stroke="#000" stroke-width="0.3">1</text>
<text transform="translate(515.65 540.70) rotate(0.03) scale(1.000 1.000)" font-size="20.0" fill="#000" stroke="#000" stroke-width="0.3">.</text>
<text transform="translate(527.85 540.70) rotate(0.03) scale(0.920 1.000)" font-size="20.0" fill="#000" stroke="#000" stroke-width="0.3">8</text>
<line x1="564.75" y1="518.70" x2="564.75" y2="514.90" stroke="#000" stroke-width="1.7"/>
<text transform="translate(555.00 540.70) rotate(0.03) scale(0.920 1.000)" font-size="20.0" fill="#000" stroke="#000" stroke-width="0.3">2</text>
<text transform="translate(562.80 540.70) rotate(0.03) scale(1.000 1.000)" font-size="20.0" fill="#000" stroke="#000" stroke-width="0.3">.</text>
<text transform="translate(575.00 540.70) rotate(0.03) scale(0.920 1.000)" font-size="20.0" fill="#000" stroke="#000" stroke-width="0.3">0</text>
<line x1="611.91" y1="518.70" x2="611.91" y2="514.90" stroke="#000" stroke-width="1.7"/>
<text transform="translate(602.16 540.70) rotate(0.03) scale(0.920 1.000)" font-size="20.0" fill="#000" stroke="#000" stroke-width="0.3">2</text>
<text transform="translate(609.96 540.70) rotate(0.03) scale(1.000 1.000)" font-size="20.0" fill="#000" stroke="#000" stroke-width="0.3">.</text>
<text transform="translate(622.16 540.70) rotate(0.03) scale(0.920 1.000)" font-size="20.0" fill="#000" stroke="#000" stroke-width="0.3">2</text>
<line x1="659.07" y1="518.70" x2="659.07" y2="514.90" stroke="#000" stroke-width="1.7"/>
<text transform="translate(649.32 540.70) rotate(0.03) scale(0.920 1.000)" font-size="20.0" fill="#000" stroke="#000" stroke-width="0.3">2</text>
<text transform="translate(657.12 540.70) rotate(0.03) scale(1.000 1.000)" font-size="20.0" fill="#000" stroke="#000" stroke-width="0.3">.</text>
<text transform="translate(669.32 540.70) rotate(0.03) scale(0.920 1.000)" font-size="20.0" fill="#000" stroke="#000" stroke-width="0.3">4</text>
<line x1="399.70" y1="519.00" x2="404.90" y2="519.00" stroke="#000" stroke-width="1.7"/>
<text transform="translate(390.20 526.30) rotate(0.03) scale(0.920 1.000)" font-size="20.0" fill="#000" stroke="#000" stroke-width="0.3">0</text>
<line x1="399.70" y1="504.85" x2="402.05" y2="504.85" stroke="#000" stroke-width="1.7"/>
<line x1="399.70" y1="490.70" x2="404.90" y2="490.70" stroke="#000" stroke-width="1.7"/>
<text transform="translate(390.20 498.00) rotate(0.03) scale(0.920 1.000)" font-size="20.0" fill="#000" stroke="#000" stroke-width="0.3">2</text>
<line x1="399.70" y1="476.55" x2="402.05" y2="476.55" stroke="#000" stroke-width="1.7"/>
<line x1="399.70" y1="462.40" x2="404.90" y2="462.40" stroke="#000" stroke-width="1.7"/>
<text transform="translate(390.20 469.70) rotate(0.03) scale(0.920 1.000)" font-size="20.0" fill="#000" stroke="#000" stroke-width="0.3">4</text>
<line x1="399.70" y1="448.25" x2="402.05" y2="448.25" stroke="#000" stroke-width="1.7"/>
<line x1="399.70" y1="434.10" x2="404.90" y2="434.10" stroke="#000" stroke-width="1.7"/>
<text transform="translate(390.20 441.40) rotate(0.03) scale(0.920 1.000)" font-size="20.0" fill="#000" stroke="#000" stroke-width="0.3">6</text>
<line x1="399.70" y1="419.95" x2="402.05" y2="419.95" stroke="#000" stroke-width="1.7"/>
<line x1="399.70" y1="405.80" x2="404.90" y2="405.80" stroke="#000" stroke-width="1.7"/>
<text transform="translate(390.20 413.10) rotate(0.03) scale(0.920 1.000)" font-size="20.0" fill="#000" stroke="#000" stroke-width="0.3">8</text>
<line x1="399.70" y1="391.65" x2="402.05" y2="391.65" stroke="#000" stroke-width="1.7"/>
<line x1="399.70" y1="377.50" x2="404.90" y2="377.50" stroke="#000" stroke-width="1.7"/>
<text transform="translate(380.20 384.80) rotate(0.03) scale(0.920 1.000)" font-size="20.0" fill="#000" stroke="#000" stroke-width="0.3">1</text>
<text transform="translate(390.20 384.80) rotate(0.03) scale(0.920 1.000)" font-size="20.0" fill="#000" stroke="#000" stroke-width="0.3">0</text>
<line x1="399.70" y1="363.35" x2="402.05" y2="363.35" stroke="#000" stroke-width="1.7"/>
<line x1="399.70" y1="349.20" x2="404.90" y2="349.20" stroke="#000" stroke-width="1.7"/>
<text transform="translate(380.20 356.50) rotate(0.03) scale(0.920 1.000)" font-size="20.0" fill="#000" stroke="#000" stroke-width="0.3">1</text>
<text transform="translate(390.20 356.50) rotate(0.03) scale(0.920 1.000)" font-size="20.0" fill="#000" stroke="#000" stroke-width="0.3">2</text>
<line x1="399.70" y1="335.05" x2="402.05" y2="335.05" stroke="#000" stroke-width="1.7"/>
<line x1="399.70" y1="320.90" x2="404.90" y2="320.90" stroke="#000" stroke-width="1.7"/>
<text transform="translate(380.20 328.20) rotate(0.03) scale(0.920 1.000)" font-size="20.0" fill="#000" stroke="#000" stroke-width="0.3">1</text>
<text transform="translate(390.20 328.20) rotate(0.03) scale(0.920 1.000)" font-size="20.0" fill="#000" stroke="#000" stroke-width="0.3">4</text>
<line x1="399.70" y1="306.75" x2="402.05" y2="306.75" stroke="#000" stroke-width="1.7"/>
<line x1="399.70" y1="292.60" x2="404.90" y2="292.60" stroke="#000" stroke-width="1.7"/>
<text transform="translate(380.20 299.90) rotate(0.03) scale(0.920 1.000)" font-size="20.0" fill="#000" stroke="#000" stroke-width="0.3">1</text>
<text transform="translate(390.20 299.90) rotate(0.03) scale(0.920 1.000)" font-size="20.0" fill="#000" stroke="#000" stroke-width="0.3">6</text>
<text transform="translate(491.00 564.90) rotate(0.03) scale(0.920 1.000)" font-size="20.0" fill="#000" stroke="#000" stroke-width="0.3">1</text>
<text transform="translate(500.86 564.90) rotate(0.03) scale(0.920 1.000)" font-size="20.0" fill="#000" stroke="#000" stroke-width="0.3">0</text>
<text transform="translate(510.72 564.90) rotate(0.03) scale(0.920 1.000)" font-size="20.0" fill="#000" stroke="#000" stroke-width="0.3">0</text>
<text transform="translate(520.58 564.90) rotate(0.03) scale(0.920 1.000)" font-size="20.0" fill="#000" stroke="#000" stroke-width="0.3">0</text>
<line x1="526.20" y1="565.60" x2="534.00" y2="549.50" stroke="#000" stroke-width="1.25"/>
<text transform="translate(539.70 564.90) rotate(0.03) scale(0.760 1.000)" font-size="20.0" fill="#000" stroke="#000" stroke-width="0.3">T</text>
<text transform="translate(560.30 561.90) rotate(0.03) scale(1.000 0.900)" font-size="20.0" fill="#000" stroke="#000" stroke-width="0.3">(</text>
<text transform="translate(568.70 564.90) rotate(0.03) scale(0.700 1.000)" font-size="20.0" fill="#000" stroke="#000" stroke-width="0.3">K</text>
<line x1="573.90" y1="551.90" x2="579.30" y2="551.90" stroke="#000" stroke-width="1"/>
<text transform="translate(583.20 557.00) rotate(0.03) scale(1.000 1.000)" font-size="13.4" fill="#000" stroke="#000" stroke-width="0.25">1</text>
<text transform="translate(590.70 561.90) rotate(0.03) scale(1.000 0.900)" font-size="20.0" fill="#000" stroke="#000" stroke-width="0.3">)</text>
<g transform="translate(370.20 405.60) rotate(-90)">
<text transform="translate(-9.40 0.00) rotate(0.03) scale(1.250 0.950)" font-size="20.0" fill="#000" stroke="#000" stroke-width="0.45">l</text>
<text transform="translate(-0.50 0.00) rotate(0.03) scale(0.836 1.000)" font-size="20.0" fill="#000" stroke="#000" stroke-width="0.45">n</text>
<text transform="translate(10.00 0.00) rotate(0.03) scale(0.651 1.000)" font-size="20.0" fill="#000" stroke="#000" stroke-width="0.45">K</text>
</g>
<rect x="418.75" y="316.65" width="5.1" height="5.1" fill="#000"/>
<rect x="428.35" y="316.65" width="5.1" height="5.1" fill="#000"/>
<rect x="440.75" y="316.65" width="5.1" height="5.1" fill="#000"/>
<rect x="453.85" y="316.65" width="5.1" height="5.1" fill="#000"/>
<rect x="468.95" y="316.65" width="5.1" height="5.1" fill="#000"/>
<rect x="484.15" y="317.05" width="5.1" height="5.1" fill="#000"/>
<rect x="496.75" y="317.25" width="5.1" height="5.1" fill="#000"/>
<rect x="514.15" y="318.35" width="5.1" height="5.1" fill="#000"/>
<rect x="536.65" y="326.45" width="5.1" height="5.1" fill="#000"/>
<rect x="558.95" y="343.65" width="5.1" height="5.1" fill="#000"/>
<rect x="578.15" y="361.05" width="5.1" height="5.1" fill="#000"/>
<rect x="599.65" y="379.25" width="5.1" height="5.1" fill="#000"/>
<rect x="622.25" y="379.25" width="5.1" height="5.1" fill="#000"/>
<line x1="421.40" y1="306.20" x2="625.30" y2="373.00" stroke="#ff3030" stroke-width="0.88"/>
<line x1="419.20" y1="436.45" x2="450.00" y2="436.45" stroke="#ff3030" stroke-width="0.88"/>
<text transform="translate(460.55 441.60) rotate(0.03) scale(0.900 1.000)" font-size="15.0" fill="#2e2e2e">y</text>
<text transform="translate(468.05 441.60) rotate(0.03) scale(0.950 1.000)" font-size="15.0" fill="#2e2e2e">=</text>
<text transform="translate(475.55 441.60) rotate(0.03) scale(1.000 1.000)" font-size="15.0" fill="#2e2e2e">2</text>
<text transform="translate(483.05 441.60) rotate(0.03) scale(1.000 1.000)" font-size="15.0" fill="#2e2e2e">2</text>
<text transform="translate(488.90 441.60) rotate(0.03) scale(1.000 1.000)" font-size="15.0" fill="#2e2e2e">.</text>
<text transform="translate(498.05 441.60) rotate(0.03) scale(1.000 1.000)" font-size="15.0" fill="#2e2e2e">5</text>
<text transform="translate(505.55 441.60) rotate(0.03) scale(1.000 1.000)" font-size="15.0" fill="#2e2e2e">8</text>
<text transform="translate(513.05 441.60) rotate(0.03) scale(0.950 1.000)" font-size="15.0" fill="#2e2e2e">−</text>
<text transform="translate(520.55 441.60) rotate(0.03) scale(1.000 1.000)" font-size="15.0" fill="#2e2e2e">5</text>
<text transform="translate(526.40 441.60) rotate(0.03) scale(1.000 1.000)" font-size="15.0" fill="#2e2e2e">.</text>
<text transform="translate(535.55 441.60) rotate(0.03) scale(1.000 1.000)" font-size="15.0" fill="#2e2e2e">4</text>
<text transform="translate(543.05 441.60) rotate(0.03) scale(1.000 1.000)" font-size="15.0" fill="#2e2e2e">5</text>
<text transform="translate(550.55 441.60) rotate(0.03) scale(1.000 1.000)" font-size="15.0" fill="#2e2e2e">x</text>
<text transform="translate(498.60 460.40) rotate(0.03) scale(0.740 1.000)" font-size="15.0" fill="#2e2e2e">R</text>
<text transform="translate(504.60 454.10) rotate(0.03) scale(0.950 1.000)" font-size="10" fill="#2e2e2e">2</text>
<text transform="translate(510.95 460.40) rotate(0.03) scale(0.950 1.000)" font-size="15.0" fill="#2e2e2e">=</text>
<text transform="translate(518.45 460.40) rotate(0.03) scale(1.000 1.000)" font-size="15.0" fill="#2e2e2e">0</text>
<text transform="translate(524.30 460.40) rotate(0.03) scale(1.000 1.000)" font-size="15.0" fill="#2e2e2e">.</text>
<text transform="translate(533.45 460.40) rotate(0.03) scale(1.000 1.000)" font-size="15.0" fill="#2e2e2e">8</text>
<text transform="translate(540.95 460.40) rotate(0.03) scale(1.000 1.000)" font-size="15.0" fill="#2e2e2e">0</text>
<text transform="translate(548.45 460.40) rotate(0.03) scale(1.000 1.000)" font-size="15.0" fill="#2e2e2e">0</text>
<text transform="translate(648.20 323.70) rotate(0.03)" font-size="24.5" fill="#000">(d)</text>
</svg></body></html>
